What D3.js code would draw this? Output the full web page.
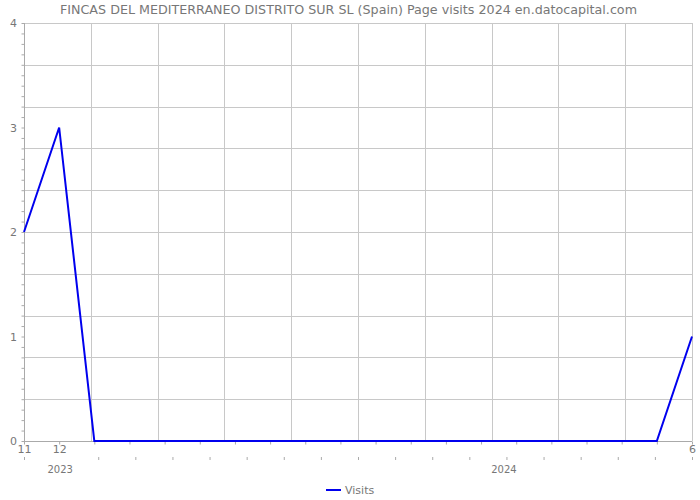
<!DOCTYPE html>
<html><head><meta charset="utf-8">
<script src="https://cdn.jsdelivr.net/npm/d3@7"></script>
<style>body{margin:0;background:#fff}svg{display:block}</style>
</head><body>
<svg id="c" width="700" height="500"></svg>
<script>
const title = "FINCAS DEL MEDITERRANEO DISTRITO SUR SL (Spain) Page visits 2024 en.datocapital.com";
const visits = [2,3,0,0,0,0,0,0,0,0,0,0,0,0,0,0,0,0,0,1];
const pointLabels = {0:"11",1:"12",19:"6"};
const yearLabels = [{label:"2023", pos:1.03},{label:"2024", pos:13.65}];
const yLabels = [0,1,2,3,4];
const seriesName = "Visits";

const svg = d3.select("#c");
const L=24,R=692,T=23,B=441;
const font = "DejaVu Sans, sans-serif";
const x = d3.scaleLinear().domain([0, visits.length-1]).range([L,R]);
const xMinor = d3.scaleLinear().domain([0,18]).range([L,R]);
const xGrid = d3.scaleLinear().domain([0,10]).range([L,R]);
const y = d3.scaleLinear().domain([0,4]).range([B,T]);

// grid
const g = svg.append("g");
g.selectAll(".hg").data(d3.range(0,4.001,0.4)).join("line")
  .attr("x1",L).attr("x2",R).attr("y1",d=>Math.round(y(d))+0.5).attr("y2",d=>Math.round(y(d))+0.5)
  .attr("stroke","#c8c8c8");
g.selectAll(".vg").data(d3.range(1,11)).join("line")
  .attr("x1",d=>Math.round(xGrid(d))+0.5).attr("x2",d=>Math.round(xGrid(d))+0.5).attr("y1",T).attr("y2",B)
  .attr("stroke","#c8c8c8");

// y axis
const ya = svg.append("g").attr("transform",`translate(${L+0.5},0)`)
  .call(d3.axisLeft(y).tickValues(d3.range(0,4.001,0.1)).tickSize(3).tickFormat(""));
ya.select(".domain").attr("stroke","#aaa").attr("d",`M0,${T}V${B}`);
ya.selectAll(".tick line").attr("stroke","#aaa");
svg.append("g").selectAll("text").data(yLabels).join("text")
  .attr("x",17).attr("y",d=>y(d)+4).attr("text-anchor","end")
  .attr("font-family",font).attr("font-size",11).attr("fill","#777").text(d=>d);

// x axis
const xa = svg.append("g").attr("transform",`translate(0,${B+0.5})`)
  .call(d3.axisBottom(x).tickValues(d3.range(0,visits.length)).tickSize(3).tickFormat(i=>pointLabels[i]||""));
xa.select(".domain").attr("stroke","#aaa").attr("d",`M${L},0H${R}`);
xa.selectAll(".tick line").attr("stroke","#aaa");
xa.selectAll(".tick text").attr("font-family",font).attr("font-size",11).attr("fill","#777").attr("dy","0.5em");
const xm = svg.append("g").attr("transform",`translate(0,457)`)
  .call(d3.axisBottom(xMinor).tickValues(d3.range(0,19).filter(i=>i!==1)).tickSize(3).tickFormat(""));
xm.select(".domain").remove();
xm.selectAll(".tick line").attr("stroke","#aaa");
svg.append("g").selectAll("text").data(yearLabels).join("text")
  .attr("x",d=>x(d.pos)).attr("y",473).attr("text-anchor","middle")
  .attr("font-family",font).attr("font-size",10).attr("fill","#777").text(d=>d.label);

// line
svg.append("path").datum(visits)
  .attr("d",d3.line().x((d,i)=>x(i)).y(d=>y(d)))
  .attr("fill","none").attr("stroke","#0000ee").attr("stroke-width",2);

// title
svg.append("text").attr("x",348.5).attr("y",14).attr("text-anchor","middle")
  .attr("font-family",font).attr("font-size",12.7).attr("fill","#777").text(title);

// legend
const lg = svg.append("g");
lg.append("line").attr("x1",326).attr("x2",341).attr("y1",490).attr("y2",490).attr("stroke","#0000ee").attr("stroke-width",2);
lg.append("text").attr("x",345).attr("y",494).attr("font-family",font).attr("font-size",11).attr("fill","#777").text(seriesName);
</script>
</body></html>
